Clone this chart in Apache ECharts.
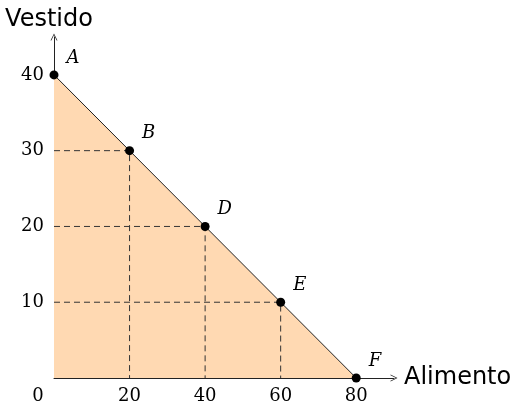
<!DOCTYPE html>
<html>
<head>
<meta charset="utf-8">
<script src="https://cdn.jsdelivr.net/npm/echarts@6/dist/echarts.min.js"></script>
<style>
  html, body { margin: 0; padding: 0; background: #fff; }
  #chart { width: 516px; height: 407px; }
</style>
</head>
<body>
<div id="chart"></div>
<script>
  // frontera de posibilidades: alimento (x) vs vestido (y)
  var alimento = [0, 20, 40, 60, 80];
  var vestido = [40, 30, 20, 10, 0];
  var puntos = ['A', 'B', 'D', 'E', 'F'];
  var ticksX = [0, 20, 40, 60, 80];
  var ticksY = [10, 20, 30, 40];
  // puntos con guias discontinuas (B, D, E)
  var guias = [1, 2, 3];

  var serif = 'DejaVu Serif';
  var sans = 'DejaVu Sans';
  var arrow = 'path://M0,10 L5,0 L10,10 L8.8,10 L5,2.2 L1.2,10 Z';

  var frontera = alimento.map(function (x, i) {
    return { value: [x, vestido[i]], name: puntos[i] };
  });

  var series = [{
    // area sombreada y linea de frontera
    type: 'line',
    data: frontera,
    symbol: 'none',
    lineStyle: { color: '#222', width: 1 },
    areaStyle: { color: '#ffd9b2', opacity: 1 },
    silent: true,
    z: 1
  }];

  guias.forEach(function (i) {
    series.push({
      type: 'line',
      data: [[0, vestido[i]], [alimento[i], vestido[i]], [alimento[i], 0]],
      symbol: 'none',
      lineStyle: { color: '#333', width: 1, type: [6, 4] },
      silent: true,
      z: 3
    });
  });

  series.push({
    type: 'scatter',
    data: frontera,
    symbol: 'circle',
    symbolSize: 9,
    itemStyle: { color: '#000', opacity: 1 },
    label: {
      show: true,
      position: 'right',
      offset: [3, -17],
      formatter: '{b}',
      fontFamily: serif,
      fontStyle: 'italic',
      fontSize: 18,
      color: '#000'
    },
    z: 5
  });

  var chart = echarts.init(document.getElementById('chart'));
  chart.setOption({
    animation: false,
    grid: { left: 54, right: 122, top: 37, bottom: 29 },
    xAxis: {
      type: 'value',
      min: 0,
      max: 90,
      name: 'Alimento',
      nameLocation: 'end',
      nameGap: 10,
      nameTextStyle: { fontFamily: sans, fontSize: 24, color: '#000', padding: [10, 0, 0, 0] },
      axisLine: { show: true, symbol: ['none', arrow], symbolSize: [10, 7], lineStyle: { color: '#222', width: 1 } },
      axisTick: { show: false },
      splitLine: { show: false },
      axisLabel: {
        customValues: ticksX,
        margin: 9,
        fontFamily: serif,
        fontSize: 18,
        color: '#000',
        formatter: function (v) { return v === 0 ? '{z|0}' : String(v); },
        rich: { z: { fontFamily: serif, fontSize: 18, color: '#000', padding: [0, 32, 0, 0] } }
      }
    },
    yAxis: {
      type: 'value',
      min: 0,
      max: 45,
      name: 'Vestido',
      nameLocation: 'end',
      nameGap: 5,
      nameTextStyle: { fontFamily: sans, fontSize: 24, color: '#000', padding: [0, 10, 0, 0] },
      axisLine: { show: true, symbol: ['none', arrow], symbolSize: [10, 7], lineStyle: { color: '#222', width: 1 } },
      axisTick: { show: false },
      splitLine: { show: false },
      axisLabel: {
        customValues: ticksY,
        margin: 10,
        fontFamily: serif,
        fontSize: 18,
        color: '#000'
      }
    },
    series: series
  });
</script>
</body>
</html>
